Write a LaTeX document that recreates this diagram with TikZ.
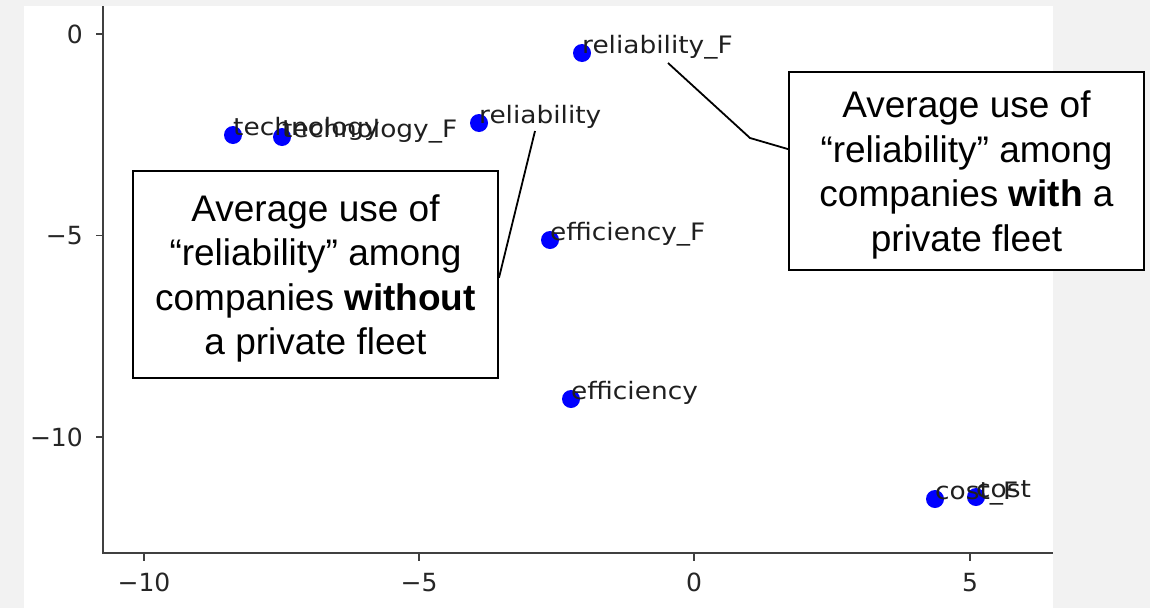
\documentclass[tikz,border=0pt]{standalone}
\usepackage{fontspec}
\setmainfont{Liberation Sans}
\newfontfamily\dvs{DejaVu Sans}
\definecolor{bggray}{HTML}{F2F2F2}
\begin{document}
\begin{tikzpicture}[x=1pt,y=-1pt,
  dot/.style={circle,fill=blue,inner sep=0pt,minimum size=18pt},
  lbl/.style={anchor=base west,inner sep=0pt,font=\dvs\fontsize{24}{28}\selectfont,text=black!88},
  ticklbl/.style={font=\dvs\fontsize{25}{28}\selectfont,text=black!85,inner sep=0pt},
  frame/.style={draw=black,line width=2pt,fill=white,inner sep=0pt},
  callout/.style={align=center,font=\fontsize{37}{44.5}\selectfont,inner sep=0pt},
  spine/.style={draw=black!75,line width=1.6pt},
  leader/.style={draw=black,line width=1.8pt}]
\useasboundingbox (0,0) rectangle (1150,608);
\fill[bggray] (0,0) rectangle (1150,608);
\fill[white] (24,6) rectangle (1053,608);
% axes
\draw[spine] (103,6) -- (103,553) -- (1053,553);
\foreach \y/\t in {34/0,235.5/−5,437/−10}{
  \draw[spine] (96,\y) -- (103,\y);
  \node[ticklbl,anchor=east] at (83,\y) {\t};
}
\foreach \x/\t in {144/−10,419/−5,694/0,970/5}{
  \draw[spine] (\x,553) -- (\x,561);
  \node[ticklbl,anchor=north] at (\x,573) {\t};
}
% points
\node[dot] (tech) at (233,135) {};
\node[dot] (techF) at (282,137) {};
\node[dot] (rel) at (479,123) {};
\node[dot] (relF) at (582,53) {};
\node[dot] (effF) at (550,240) {};
\node[dot] (eff) at (571,399) {};
\node[dot] (costF) at (935,499) {};
\node[dot] (cost) at (976,497) {};
% labels
\node[lbl] (techL) at (tech.center) {\scalebox{1.1}[1]{technology}};
\node[lbl] (techFL) at (techF.center) {\scalebox{1.1}[1]{technology\_F}};
\node[lbl] (relL) at (rel.center) {\scalebox{1.1}[1]{reliability}};
\node[lbl] (relFL) at (relF.center) {\scalebox{1.1}[1]{reliability\_F}};
\node[lbl] (effFL) at (effF.center) {\scalebox{1.1}[1]{efficiency\_F}};
\node[lbl] (effL) at (eff.center) {\scalebox{1.1}[1]{efficiency}};
\node[lbl] (costFL) at (costF.center) {\scalebox{1.1}[1]{cost\_F}};
\node[lbl] (costL) at (cost.center) {\scalebox{1.1}[1]{cost}};
% callouts
\node[frame,minimum width=365pt,minimum height=207pt] (lbox) at (315.5,274.5) {};
\node[callout] (ltext) at ([yshift=-4pt]lbox.center)
  {Average use of\\“reliability” among\\companies \textbf{without}\\a private fleet};
\node[frame,minimum width=355pt,minimum height=198pt] (rbox) at (966.5,171) {};
\node[callout] (rtext) at ([yshift=-4pt]rbox.center)
  {Average use of\\“reliability” among\\companies \textbf{with} a\\private fleet};
\coordinate (ltip) at (535,131);
\coordinate (rtip) at (668,63);
\coordinate (rbend) at (750,138);
\draw[leader] (lbox.-1) -- (ltip);
\draw[leader] (rtip) -- (rbend) -- (rbox.173.6);
\end{tikzpicture}
\end{document}
